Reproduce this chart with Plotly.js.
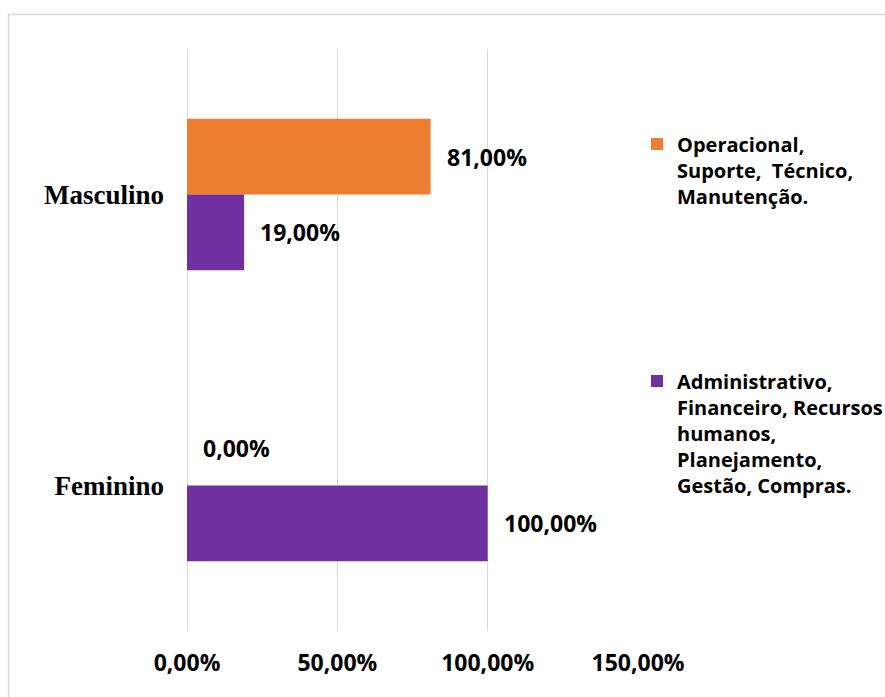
<!DOCTYPE html>
<html>
<head>
<meta charset="utf-8">
<script src="https://cdn.plot.ly/plotly-3.0.1.min.js"></script>
<style>
html,body{margin:0;padding:0;background:#fff;}
#chart{width:885px;height:697px;}
</style>
</head>
<body>
<div id="chart"></div>
<script>
// ---- data ----
const categories = ['Masculino', 'Feminino'];
const seriesNames = [
  'Operacional,<br>Suporte,\u00a0 Técnico,<br>Manutenção.',
  'Administrativo,<br>Financeiro, Recursos<br>humanos,<br>Planejamento,<br>Gestão, Compras.'
];
const operacional = [81, 0];
const administrativo = [19, 100];
const seriesValues = [operacional, administrativo];
const seriesColors = ['#ED7D31', '#7030A0'];
const xTicks = [0, 50, 100, 150];

// ---- layout params ----
const W = 885, H = 697;
const mL = 187, mR = 247, mT = 49, mB = 66;
const bargap = 0.48;
const plotW = W - mL - mR, plotH = H - mT - mB;

const fontFam = '"Open Sans", "Noto Sans", sans-serif';
const fmtPct = v => v.toFixed(2).replace('.', ',') + '%';

const traces = seriesValues.map((vals, i) => ({
  type: 'bar',
  orientation: 'h',
  x: vals,
  y: categories,
  name: seriesNames[i],
  marker: {color: seriesColors[i], line: {width: 0}},
  legend: i === 0 ? 'legend' : 'legend2',
  hoverinfo: 'x+y'
}));

const annotations = [];
const halfBar = (1 - bargap) / 4;
seriesValues.forEach((vals, i) => {
  vals.forEach((v, j) => {
    annotations.push({
      x: v,
      y: j + (i === 0 ? -halfBar : halfBar),
      xref: 'x', yref: 'y',
      text: fmtPct(v),
      showarrow: false,
      xanchor: 'left',
      yanchor: 'middle',
      xshift: 14,
      font: {family: fontFam, size: 23, color: '#000', weight: 700}
    });
  });
});

const shapes = [{
  type: 'rect',
  xref: 'paper', yref: 'paper',
  x0: (8.5 - mL) / plotW,
  x1: (W + 20 - mL) / plotW,
  y0: -(mB + 20) / plotH,
  y1: (H - mB - 14.5) / plotH,
  line: {color: '#d9d9d9', width: 1.5},
  fillcolor: 'rgba(0,0,0,0)',
  layer: 'below'
}];

const legendFont = {family: fontFam, size: 20, color: '#000', weight: 700};
const legendX = (677 - 40 - mL) / plotW;

const layout = {
  width: W, height: H,
  margin: {l: mL, r: mR, t: mT, b: mB, pad: 0, autoexpand: false},
  paper_bgcolor: '#fff',
  plot_bgcolor: '#fff',
  separators: ',.',
  barmode: 'group',
  bargap: bargap,
  showlegend: true,
  font: {family: fontFam, color: '#000'},
  xaxis: {
    range: [0, 150],
    tickmode: 'array',
    tickvals: xTicks,
    ticktext: xTicks.map(fmtPct),
    showgrid: true,
    gridcolor: '#d9d9d9',
    gridwidth: 1.3,
    zeroline: true,
    zerolinecolor: '#d9d9d9',
    zerolinewidth: 1.3,
    showline: false,
    ticks: '',
    ticklabelstandoff: 16,
    tickfont: {family: fontFam, size: 23, color: '#000', weight: 700},
    automargin: false,
    fixedrange: true
  },
  yaxis: {
    type: 'category',
    categoryorder: 'array',
    categoryarray: categories,
    range: [1.5, -0.5],
    showgrid: false,
    zeroline: false,
    showline: false,
    ticks: '',
    ticklabelstandoff: 22,
    tickfont: {family: '"Liberation Serif", "Times New Roman", serif', size: 27, color: '#000', weight: 700},
    automargin: false,
    fixedrange: true
  },
  legend: {
    x: legendX, xanchor: 'left',
    y: (H - mB - 124.5) / plotH, yanchor: 'top',
    font: legendFont,
    valign: 'top',
    bgcolor: 'rgba(0,0,0,0)',
    borderwidth: 0
  },
  legend2: {
    x: legendX, xanchor: 'left',
    y: (H - mB - 361.5) / plotH, yanchor: 'top',
    font: legendFont,
    valign: 'top',
    bgcolor: 'rgba(0,0,0,0)',
    borderwidth: 0
  },
  annotations: annotations,
  shapes: shapes
};

Plotly.newPlot('chart', traces, layout, {displayModeBar: false});
</script>
</body>
</html>
